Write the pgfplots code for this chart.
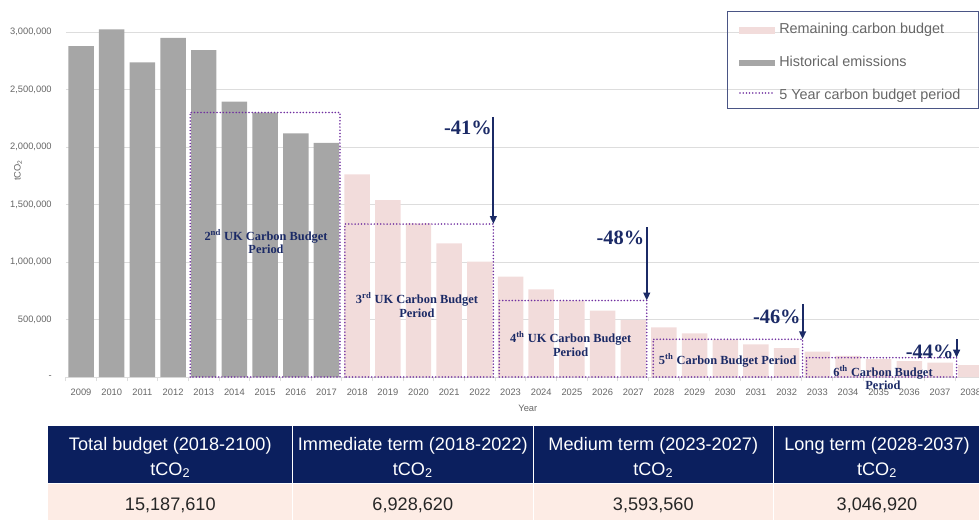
\documentclass[border=0pt]{standalone}
\usepackage{pgfplots}
\pgfplotsset{compat=1.18}
\usetikzlibrary{arrows.meta}
\usepackage{fontspec}
\setmainfont{Liberation Sans}
\newfontfamily\timesfont{Liberation Serif}

\definecolor{histgray}{HTML}{A6A6A6}
\definecolor{budgetpink}{HTML}{F2DCDB}
\definecolor{periodpurple}{HTML}{7030A0}
\definecolor{navy}{HTML}{1B2A66}
\definecolor{headnavy}{HTML}{0B1F5E}
\definecolor{rowpeach}{HTML}{FDECE5}
\definecolor{ticktext}{HTML}{666666}
\definecolor{gridgray}{HTML}{DDDDDD}
\definecolor{legendborder}{HTML}{4A5585}

\tikzset{
  period/.style={periodpurple, line width=1.3pt, line cap=round, dash pattern=on 0pt off 2.4pt},
  pct/.style={text=navy, font=\timesfont\bfseries\fontsize{15.3}{16}\selectfont, inner sep=0pt},
  plabel/.style={text=navy, align=center, font=\timesfont\bfseries\fontsize{9.3}{10}\selectfont, inner sep=0pt},
  drop/.style={navy, line width=1.5pt, -{Triangle[length=6pt,width=5pt]}},
}

\begin{document}
\begin{tikzpicture}[x=0.75pt,y=0.75pt]
\useasboundingbox (0,0) rectangle (979,522);

\begin{axis}[
  at={(49.275pt,108.75pt)}, anchor=south west,
  width=684.975pt, height=267.375pt, scale only axis,
  xmin=-0.5, xmax=29.27, ymin=0, ymax=3100000,
  clip=false,
  scaled y ticks=false,
  axis lines*=left,
  x axis line style={draw=gridgray, line width=0.75pt},
  y axis line style={draw=none},
  tick align=outside,
  xtick={0,...,29},
  xticklabels={2009,2010,2011,2012,2013,2014,2015,2016,2017,2018,2019,2020,2021,2022,2023,2024,2025,2026,2027,2028,2029,2030,2031,2032,2033,2034,2035,2036,2037,2038},
  minor xtick={-0.5,0.5,...,29.5},
  major tick length=0pt,
  minor tick length=3pt,
  minor x tick style={draw=gridgray, line width=0.75pt},
  ytick={0,500000,1000000,1500000,2000000,2500000,3000000},
  yticklabels={-,{500,000},{1,000,000},{1,500,000},{2,000,000},{2,500,000},{3,000,000}},
  ymajorgrids,
  major grid style={draw=gridgray, line width=0.75pt},
  ticklabel style={font=\fontsize{7}{8}\selectfont, text=ticktext},
  xticklabel style={yshift=-5.5pt},
  yticklabel style={xshift=-7pt},
  xlabel={Year},
  xlabel style={at={(axis description cs:0.506,-0.087)}, anchor=center, font=\fontsize{7}{8}\selectfont, text=ticktext},
  ylabel={tCO\textsubscript{2}},
  ylabel style={at={(axis description cs:-0.0522,0.58)}, anchor=center, font=\fontsize{7}{8}\selectfont, text=ticktext},
]

% historical emissions
\addplot[ybar, bar width=0.83, bar shift=0pt, fill=histgray, draw=none] coordinates {
  (0,2878000) (1,3023000) (2,2736000) (3,2950000) (4,2843000)
  (5,2394000) (6,2298000) (7,2119000) (8,2035000)
};
% remaining carbon budget
\addplot[ybar, bar width=0.83, bar shift=0pt, fill=budgetpink, draw=none] coordinates {
  (9,1762000) (10,1539000) (11,1335000) (12,1162000) (13,1003000)
  (14,872000) (15,762000) (16,665000) (17,577000) (18,496000)
  (19,432000) (20,380000) (21,325000) (22,284000) (23,252000)
  (24,220000) (25,183000) (26,155000) (27,137000) (28,124000)
  (29,104000)
};

% five-year budget periods
\addplot[period] coordinates {(3.56,0) (3.56,2300000) (8.44,2300000) (8.44,0) (3.56,0)};
\addplot[period] coordinates {(8.60,0) (8.60,1330000) (13.44,1330000) (13.44,0) (8.60,0)};
\addplot[period] coordinates {(13.63,0) (13.63,665000) (18.44,665000) (18.44,0) (13.63,0)};
\addplot[period] coordinates {(18.65,0) (18.65,328000) (23.52,328000) (23.52,0) (18.65,0)};
\addplot[period] coordinates {(23.65,0) (23.65,168000) (28.54,168000) (28.54,0) (23.65,0)};

% reductions between periods
\draw[drop] (axis cs:13.44,2263000) -- (axis cs:13.44,1330000);
\draw[drop] (axis cs:18.44,1302000) -- (axis cs:18.44,665000);
\draw[drop] (axis cs:23.52,635000) -- (axis cs:23.52,328000);
\draw[drop] (axis cs:28.54,330000) -- (axis cs:28.54,168000);
\node[pct] at (axis cs:12.61,2165000) {-41\%};
\node[pct] at (axis cs:17.58,1206000) {-48\%};
\node[pct] at (axis cs:22.68,524000) {-46\%};
\node[pct] at (axis cs:27.66,220000) {-44\%};

% period names
\node[plabel] at (axis cs:6.03,1177000) {2\textsuperscript{nd} UK Carbon Budget\\Period};
\node[plabel] at (axis cs:10.95,626000) {3\textsuperscript{rd} UK Carbon Budget\\Period};
\node[plabel] at (axis cs:15.96,287000) {4\textsuperscript{th} UK Carbon Budget\\Period};
\node[plabel] at (axis cs:21.08,142000) {5\textsuperscript{th} Carbon Budget Period};
\node[plabel] at (axis cs:26.14,-4300) {6\textsuperscript{th} Carbon Budget\\Period};
\end{axis}

% legend
\draw[legendborder, line width=0.75pt] (727,510.3) rectangle (978.3,413);
\fill[budgetpink] (739,487.7) rectangle (775,495.3);
\fill[histgray] (739,456.3) rectangle (775,462.3);
\draw[period] (740,429) -- (775,429);
\begin{scope}[every node/.style={anchor=base west, inner sep=0pt, text=ticktext, font=\fontsize{10.8}{12}\selectfont}]
  \node at (779,488.7) {Remaining carbon budget};
  \node at (779,455.3) {Historical emissions};
  \node at (779,422) {5 Year carbon budget period};
\end{scope}

% summary table
\fill[headnavy] (48.3,96) rectangle (980.7,38.7);
\fill[rowpeach] (48.3,38.7) rectangle (980.7,2);
\draw[white, line width=1.1pt] (48.3,38.7) -- (980.7,38.7);
\foreach \xx in {292.3,533.3,773.3} \draw[white, line width=1.1pt] (\xx,96) -- (\xx,2);
\begin{scope}[every node/.style={anchor=base, inner sep=0pt, font=\fontsize{13.6}{16}\selectfont}]
  \node[text=white] at (170.3,71.3) {Total budget (2018-2100)};
  \node[text=white] at (412.8,71.3) {Immediate term (2018-2022)};
  \node[text=white] at (653.3,71.3) {Medium term (2023-2027)};
  \node[text=white] at (877,71.3) {Long term (2028-2037)};
  \foreach \xx in {170.3,412.8,653.3,877} \node[text=white] at (\xx,47) {tCO\textsubscript{2}};
  \node[text=black!85] at (170.3,11.3) {15,187,610};
  \node[text=black!85] at (412.8,11.3) {6,928,620};
  \node[text=black!85] at (653.3,11.3) {3,593,560};
  \node[text=black!85] at (877,11.3) {3,046,920};
\end{scope}
\end{tikzpicture}
\end{document}
